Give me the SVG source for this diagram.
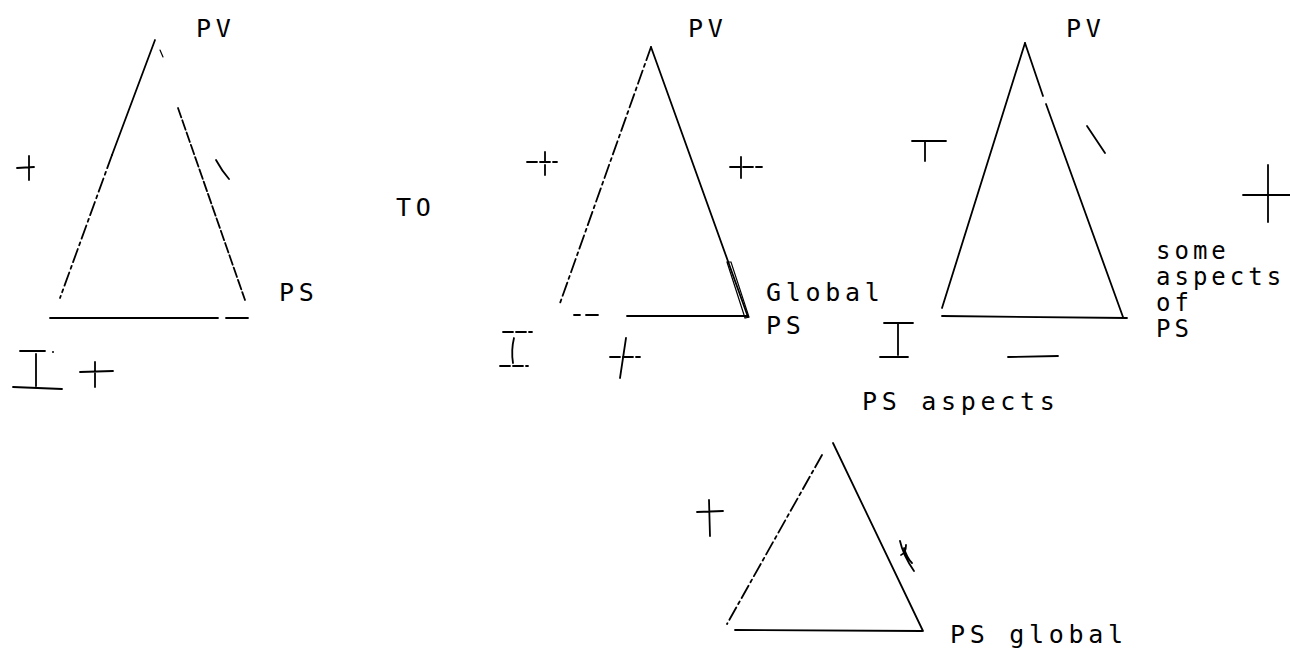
<svg xmlns="http://www.w3.org/2000/svg" width="1290" height="649" viewBox="0 0 1290 649">
<style>
.ln{fill:none;stroke:#000;stroke-width:1.8;stroke-linecap:round;stroke-linejoin:round}
.thin{fill:none;stroke:#000;stroke-width:1.2;stroke-linecap:round}
.d1{stroke-dasharray:14 4 3 4}
.d2{stroke-dasharray:10 3}
.lbl{font-family:"DejaVu Sans Mono","Liberation Mono",monospace;font-size:25px;letter-spacing:4.7px;fill:#000}
.blk{font-family:"DejaVu Sans Mono","Liberation Mono",monospace;font-size:24px;letter-spacing:4px;fill:#000}
</style>
<rect width="1290" height="649" fill="#fff"/>

<g id="triangle1">
  <path class="ln" d="M155,40 L112,155"/>
  <path class="ln d1" d="M112,155 L60,298"/>
  <path class="thin" d="M160,50 L163,57"/>
  <path class="ln d2" d="M178,108 L245,300"/>
  <path class="ln" d="M50,318 L218,318 M226,318 L248,318"/>
  <path class="ln" d="M17,168 L34,167 M29,156 L29,180"/>
  <path class="ln" d="M216,160 Q222,171 229,179"/>
  <path class="ln" d="M20,351 L45,351 M36,354 L36,386 M13,387 L62,389"/>
  <circle cx="53" cy="352" r="1" fill="#000"/>
  <path class="ln" d="M80,372 L113,371 M95,362 L95,387"/>
  <text class="lbl" x="196" y="37">PV</text>
  <text class="lbl" x="279" y="301">PS</text>
</g>

<g id="to-label">
  <text class="lbl" x="396" y="216">TO</text>
</g>

<g id="triangle2">
  <path class="ln d1" d="M651,47 L559,306"/>
  <path class="ln" d="M651,47 L748,317"/>
  <path class="thin" d="M727,262 L731,262 L749,317 L745,318 Z"/>
  <path class="ln" d="M574,315 L580,315 M586,315 L598,315"/>
  <path class="ln" d="M627,316 L748,316"/>
  <path class="ln d2" d="M527,162 L557,162"/>
  <path class="ln d2" d="M545,152 L545,175"/>
  <path class="ln d2" d="M730,167 L762,167"/>
  <path class="ln" d="M741,157 L741,178"/>
  <path class="ln d2" d="M503,332 L532,332"/>
  <path class="ln" d="M514,338 Q511,350 513,363"/>
  <path class="ln d2" d="M500,366 L528,366"/>
  <path class="ln" d="M626,338 L620,378"/>
  <path class="ln d2" d="M610,357 L640,357"/>
  <text class="lbl" x="688" y="37">PV</text>
  <text class="lbl" x="766" y="301">Global</text>
  <text class="lbl" x="766" y="334">PS</text>
</g>

<g id="triangle3">
  <path class="ln" d="M1025,43 L942,308"/>
  <path class="ln" d="M1025,43 L1043,96 M1046,104 L1123,317"/>
  <path class="ln" d="M942,316 L1127,318"/>
  <path class="ln" d="M912,141 L946,141 M925,141 L925,161"/>
  <path class="ln" d="M1087,126 L1105,153"/>
  <path class="ln" d="M1243,195 L1290,195 M1268,165 L1268,222"/>
  <path class="ln" d="M884,323 L913,323 M898,323 L898,355 M880,357 L908,357"/>
  <path class="ln" d="M1008,357 L1058,356"/>
  <text class="lbl" x="1066" y="37">PV</text>
  <text class="blk" x="1156" y="259">some</text>
  <text class="blk" x="1156" y="285">aspects</text>
  <text class="blk" x="1156" y="311">of</text>
  <text class="blk" x="1156" y="337">PS</text>
</g>

<g id="triangle4">
  <path class="ln d1" d="M822,455 L727,624"/>
  <path class="ln" d="M833,443 L923,631"/>
  <path class="ln" d="M735,630 L922,631"/>
  <path class="ln" d="M697,512 L723,511 M709,500 L710,536"/>
  <path class="ln" d="M900,541 Q903,555 914,571 M904,548 Q907,558 912,563 M901,555 Q906,553 906,545"/>
  <text class="lbl" x="862" y="410">PS aspects</text>
  <text class="lbl" x="950" y="643">PS global</text>
</g>
</svg>
